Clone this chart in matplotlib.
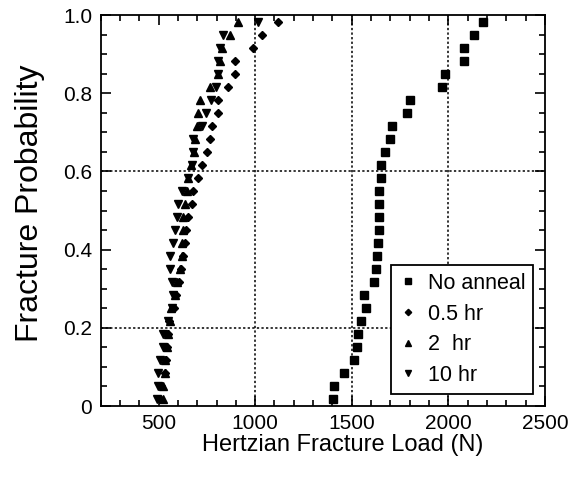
import matplotlib
matplotlib.use("Agg")
import matplotlib.pyplot as plt
from matplotlib.ticker import MultipleLocator

plt.rcParams['font.family'] = ['Liberation Sans', 'DejaVu Sans']

# fracture probability levels, (i - 0.5) / 30
n = 30
prob = [(i - 0.5) / n for i in range(1, n + 1)]

# Hertzian fracture loads (N), one per rank
no_anneal = [1401, 1408, 1461, 1512, 1526, 1534, 1546, 1572, 1562, 1614,
             1627, 1631, 1634, 1641, 1641, 1641, 1643, 1650, 1651, 1674,
             1699, 1710, 1786, 1800, 1968, 1982, 2081, 2081, 2134, 2177]
half_hr = [505, 515, 535, 540, 545, 550, 555, 580, 590, 605,
           618, 625, 635, 640, 650, 672, 680, 706, 724, 750,
           767, 775, 810, 810, 861, 896, 896, 991, 1034, 1120]
two_hr = [522, 525, 534, 534, 543, 551, 560, 565, 585, 594,
          611, 620, 620, 628, 628, 637, 646, 654, 668, 684,
          690, 698, 706, 715, 767, 808, 818, 827, 870, 913]
ten_hr = [491, 499, 495, 508, 525, 525, 549, 568, 577, 568,
          560, 560, 577, 585, 594, 603, 620, 654, 672, 680,
          680, 724, 744, 772, 798, 808, 809, 818, 835, 1016]

labels = ['No anneal', '0.5 hr', '2  hr', '10 hr']

fig = plt.figure(figsize=(5.78, 4.78), dpi=100)
ax = fig.add_axes([0.174, 0.1506, 0.769, 0.818])

ax.plot(no_anneal, prob, 's', color='black', markersize=5.3, label=labels[0])
ax.plot(half_hr, prob, 'D', color='black', markersize=3.8, label=labels[1])
ax.plot(two_hr, prob, '^', color='black', markersize=5.5, label=labels[2])
ax.plot(ten_hr, prob, 'v', color='black', markersize=5.5, label=labels[3])

# dotted reference lines
for xv in [1000, 1500, 2000]:
    ax.axvline(xv, color='black', linestyle=(0, (1.5, 1.5)), linewidth=1.1, zorder=0)
for yv in [0.2, 0.6]:
    ax.axhline(yv, color='black', linestyle=(0, (1.5, 1.5)), linewidth=1.1, zorder=0)

ax.set_xlim(200, 2500)
ax.set_ylim(0, 1.0)
ax.xaxis.set_major_locator(MultipleLocator(500))
ax.xaxis.set_minor_locator(MultipleLocator(100))
ax.yaxis.set_minor_locator(MultipleLocator(0.05))
ax.set_yticks([0, 0.2, 0.4, 0.6, 0.8, 1.0])
ax.set_yticklabels(['0', '0.2', '0.4', '0.6', '0.8', '1.0'])

ax.tick_params(which='both', direction='in', top=True, right=True,
               labelsize=15, width=1.2)
ax.tick_params(which='major', length=7, pad=6)
ax.tick_params(which='minor', length=4)
for s in ax.spines.values():
    s.set_linewidth(1.3)

ax.set_xlabel('Hertzian Fracture Load (N)', fontsize=17)
ax.set_ylabel('Fracture Probability', fontsize=23)
ax.xaxis.set_label_coords(0.544, -0.071)
ax.yaxis.set_label_coords(-0.125, 0.518)

leg = ax.legend(loc='lower right', bbox_to_anchor=(0.974, 0.032), fontsize=15.5,
                frameon=True, fancybox=False, edgecolor='black',
                borderaxespad=0, handletextpad=0.5, labelspacing=0.45,
                borderpad=0.35, handlelength=0.9, markerscale=0.85)
leg.get_frame().set_linewidth(1.3)
leg.get_frame().set_alpha(1)

plt.savefig('out.png', dpi=100)
